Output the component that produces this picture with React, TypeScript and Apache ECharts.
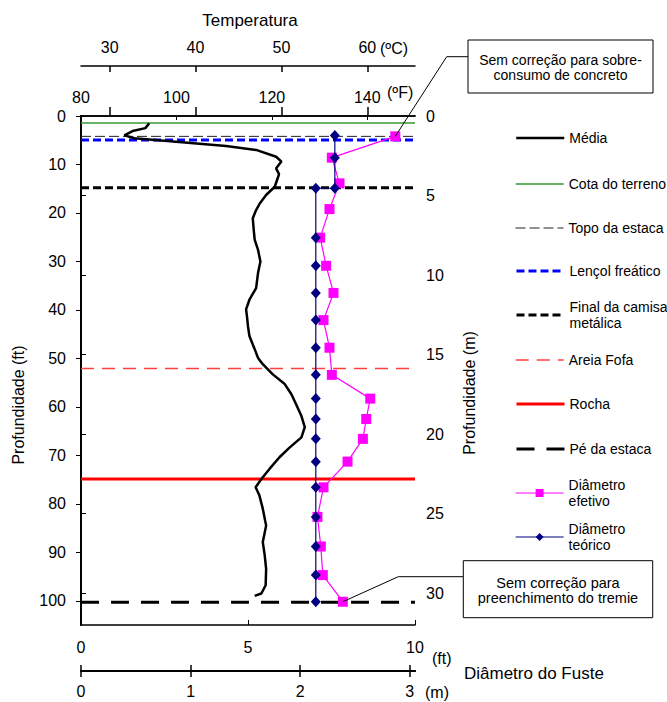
import React, { useEffect, useRef } from 'react';
import * as echarts from 'echarts';

// ---- Data ----
const tempDepthFt = [1.5, 2.5, 3.1, 4.0, 4.6, 5.3, 6.2, 7.0, 8.4, 9.4, 10.8, 12.0, 12.9, 14.6, 16.3, 18.0, 19.4, 21.1, 23.5, 25.5, 27.6, 30.0, 32.4, 35.5, 37.9, 39.9, 41.5, 43.4, 45.4, 48.1, 49.9, 51.2, 53.3, 55.3, 57.4, 59.5, 61.9, 64.2, 66.3, 68.4, 70.4, 72.8, 74.9, 76.6, 78.3, 81.0, 84.5, 87.9, 90.6, 93.4, 96.8, 98.5, 99.0];
const tempF = [94.3, 93.5, 90.8, 89.1, 91.2, 99.9, 110.4, 116.7, 120.9, 122.0, 120.9, 121.5, 121.2, 120.6, 118.8, 117.5, 116.7, 116.0, 116.2, 116.4, 117.1, 117.6, 117.1, 116.7, 115.3, 114.6, 114.8, 115.0, 115.3, 116.4, 117.1, 118.1, 120.2, 122.7, 124.1, 125.1, 126.2, 126.9, 126.2, 123.7, 121.6, 119.5, 117.8, 116.6, 117.4, 118.1, 118.8, 118.1, 118.5, 118.8, 118.7, 117.8, 116.4];

const efetivoDepthFt = [4.2, 8.6, 13.9, 19.2, 25.1, 30.9, 36.5, 42.1, 47.8, 53.4, 58.3, 62.5, 66.6, 71.3, 76.6, 82.7, 88.8, 94.7, 100.2];
const efetivoDiamFt = [9.41, 7.51, 7.74, 7.44, 7.16, 7.34, 7.56, 7.26, 7.44, 7.51, 8.66, 8.54, 8.44, 7.98, 7.26, 7.08, 7.18, 7.24, 7.84];

const teoricoDepthFt = [4.0, 8.6, 14.9, 14.9, 25.1, 30.9, 36.5, 42.1, 47.8, 53.4, 58.3, 62.5, 66.6, 71.3, 76.6, 82.7, 88.8, 94.7, 100.2];
const teoricoDiamFt = [7.6, 7.6, 7.6, 7.03, 7.03, 7.03, 7.03, 7.03, 7.03, 7.03, 7.03, 7.03, 7.03, 7.03, 7.03, 7.03, 7.03, 7.03, 7.03];

const refLineNames = ['Cota do terreno', 'Topo da estaca', 'Lençol freático', 'Final da camisa metálica', 'Areia Fofa', 'Rocha', 'Pé da estaca'];
const refLineDepthFt = [1.45, 4.2, 4.95, 14.8, 52.1, 74.9, 100.3];

const fahrenheitTicks = [80, 100, 120, 140];
const celsiusTicks = [30, 40, 50, 60];
const depthFtTicks = [0, 10, 20, 30, 40, 50, 60, 70, 80, 90, 100];
const depthMTicks = [0, 5, 10, 15, 20, 25, 30];
const diamFtTicks = [0, 5, 10];
const diamMTicks = [0, 1, 2, 3];

// ---- Styles ----
const FONT = "'Liberation Sans', Arial, sans-serif";
const FT_PER_M = 3.2808;
const refLineStyles: any[] = [
  { color: '#339933', width: 1.5, type: 'solid' },
  { color: '#222222', width: 1, type: [10, 4] },
  { color: '#0000FF', width: 3, type: [8, 4] },
  { color: '#000000', width: 3, type: [8, 4] },
  { color: '#FF4040', width: 1.5, type: [13, 8] },
  { color: '#FF0000', width: 3, type: 'solid' },
  { color: '#000000', width: 3, type: [18, 12] },
];
const legendOrder = ['Média', ...refLineNames, 'Diâmetro efetivo', 'Diâmetro teórico'];
const legendY = [138, 184, 228, 271, 315, 360, 404, 449, 493, 537];
const legendLabel: Record<string, string> = {
  'Final da camisa metálica': 'Final da camisa\nmetálica',
  'Diâmetro efetivo': 'Diâmetro\nefetivo',
  'Diâmetro teórico': 'Diâmetro\nteórico',
};

const hideExcept = (list: number[]) => (v: number) =>
  list.some((t) => Math.abs(t - v) < 1e-6) ? String(v) : '';

export default function App() {
  const ref = useRef<HTMLDivElement>(null);
  useEffect(() => {
    if (!ref.current) return;
    const chart = echarts.init(ref.current, undefined, { renderer: 'svg' });
    const labelStyle = { color: '#000', fontSize: 16, fontFamily: FONT };
    const axisLine = (w = 1.5) => ({ show: true, lineStyle: { color: '#000', width: w } });
    const tempC = (f: number) => ((f - 32) * 5) / 9;

    const series: any[] = [];
    series.push({
      name: 'Média', type: 'line', xAxisIndex: 0, yAxisIndex: 0, symbol: 'none', z: 4,
      lineStyle: { color: '#000', width: 2.5 }, itemStyle: { color: '#000' },
      data: tempDepthFt.map((d, i) => [tempF[i], d]),
    });
    refLineNames.forEach((n, i) => {
      series.push({
        name: n, type: 'line', xAxisIndex: 3, yAxisIndex: 0, symbol: 'none', z: 3,
        lineStyle: refLineStyles[i], itemStyle: { color: refLineStyles[i].color },
        data: [[diamFtTicks[0], refLineDepthFt[i]], [diamFtTicks[diamFtTicks.length - 1], refLineDepthFt[i]]],
      });
    });
    series.push({
      name: 'Diâmetro efetivo', type: 'line', xAxisIndex: 3, yAxisIndex: 0, z: 5,
      symbol: 'rect', symbolSize: 10, lineStyle: { color: '#FF00FF', width: 1.2 }, itemStyle: { color: '#FF00FF' },
      data: efetivoDepthFt.map((d, i) => [efetivoDiamFt[i], d]),
    });
    series.push({
      name: 'Diâmetro teórico', type: 'line', xAxisIndex: 3, yAxisIndex: 0, z: 6,
      symbol: 'diamond', symbolSize: [10, 11], lineStyle: { color: '#000080', width: 1.2 }, itemStyle: { color: '#000080' },
      data: teoricoDepthFt.map((d, i) => [teoricoDiamFt[i], d]),
    });

    const legends = legendOrder.map((name, i) => {
      const twoLine = !!legendLabel[name];
      const hasMarker = name.startsWith('Diâmetro');
      return {
        data: [name], left: 515, top: legendY[i] - (twoLine ? 24 : 8), orient: 'vertical', padding: 0,
        selectedMode: false, itemWidth: 48, itemHeight: 10,
        formatter: (n: string) => legendLabel[n] || n,
        itemStyle: hasMarker ? {} : { opacity: 0 },
        lineStyle: { width: 'inherit' },
        textStyle: { color: '#000', fontSize: 14, fontFamily: FONT, lineHeight: 16, padding: twoLine ? [16, 0, 0, 0] : 0 },
      };
    });

    const xFahr = { min: 80, max: 150 };
    const xC = { min: tempC(80), max: tempC(150) };
    const mMax = 10 / FT_PER_M;

    chart.setOption({
      animation: false,
      grid: { left: 81, top: 116, width: 334, height: 509, containLabel: false, outerBoundsMode: 'none' },
      legend: legends,
      xAxis: [
        {
          type: 'value', position: 'top', ...xFahr, interval: 20,
          axisLine: axisLine(1.5), splitLine: { show: false },
          axisTick: { show: true, inside: true, length: 4, customValues: fahrenheitTicks, lineStyle: { color: '#000' } },
          axisLabel: { ...labelStyle, margin: 11, customValues: fahrenheitTicks, formatter: hideExcept(fahrenheitTicks) },
        },
        {
          type: 'value', position: 'top', offset: 50, ...xC,
          axisLine: axisLine(1.5), splitLine: { show: false },
          axisTick: { show: true, inside: false, length: 9, customValues: celsiusTicks, lineStyle: { color: '#000', width: 1.5 } },
          axisLabel: { ...labelStyle, margin: 11, customValues: celsiusTicks, formatter: hideExcept(celsiusTicks) },
        },
        {
          type: 'value', position: 'top', offset: 50, ...xC,
          axisLine: axisLine(1.5), splitLine: { show: false },
          axisTick: { show: true, inside: true, length: 6, customValues: celsiusTicks, lineStyle: { color: '#000', width: 1.5 } },
          axisLabel: { show: false },
        },
        {
          type: 'value', position: 'bottom', min: 0, max: 10, interval: 5,
          axisLine: axisLine(1.5), splitLine: { show: false },
          axisTick: { show: true, inside: true, length: 5, customValues: diamFtTicks, lineStyle: { color: '#000' } },
          axisLabel: { ...labelStyle, margin: 14, customValues: diamFtTicks, formatter: hideExcept(diamFtTicks) },
        },
        {
          type: 'value', position: 'bottom', offset: 46, min: 0, max: mMax,
          axisLine: axisLine(2), splitLine: { show: false },
          axisTick: { show: true, inside: false, length: 6, customValues: diamMTicks, lineStyle: { color: '#000', width: 1.5 } },
          axisLabel: { ...labelStyle, margin: 12, customValues: diamMTicks, formatter: hideExcept(diamMTicks) },
        },
        {
          type: 'value', position: 'bottom', offset: 46, min: 0, max: mMax,
          axisLine: axisLine(2), splitLine: { show: false },
          axisTick: { show: true, inside: true, length: 6, customValues: diamMTicks, lineStyle: { color: '#000', width: 1.5 } },
          axisLabel: { show: false },
        },
      ],
      yAxis: [
        {
          type: 'value', position: 'left', inverse: true, min: 0, max: 105, interval: 10,
          axisLine: axisLine(2), splitLine: { show: false },
          axisTick: { show: true, inside: false, length: 5, customValues: depthFtTicks, lineStyle: { color: '#000' } },
          axisLabel: { ...labelStyle, margin: 15, customValues: depthFtTicks, formatter: hideExcept(depthFtTicks) },
        },
        {
          type: 'value', position: 'right', inverse: true, min: 0, max: 105 / FT_PER_M, interval: 5,
          axisLine: axisLine(1.5), splitLine: { show: false },
          axisTick: { show: true, inside: false, length: 5, customValues: depthMTicks, lineStyle: { color: '#000' } },
          axisLabel: { ...labelStyle, margin: 11, customValues: depthMTicks, formatter: hideExcept(depthMTicks) },
        },
      ],
      series,
    });

    const pTop = chart.convertToPixel({ xAxisIndex: 3, yAxisIndex: 0 }, [efetivoDiamFt[0], efetivoDepthFt[0]]) as number[];
    const last = efetivoDiamFt.length - 1;
    const pBot = chart.convertToPixel({ xAxisIndex: 3, yAxisIndex: 0 }, [efetivoDiamFt[last], efetivoDepthFt[last]]) as number[];

    const txt = (text: string, x: number, y: number, size: number, extra: any = {}) => ({
      type: 'text', x, y, z: 100,
      style: { text, fontSize: size, fontFamily: FONT, fill: '#000', align: 'center', verticalAlign: 'middle', ...extra },
    });

    chart.setOption({
      graphic: [
        txt('Temperatura', 250, 20, 17),
        txt('(ºC)', 380, 48, 16, { align: 'left' }),
        txt('(ºF)', 387, 92, 16, { align: 'left' }),
        txt('(ft)', 432, 658, 16, { align: 'left' }),
        txt('(m)', 425, 692, 16, { align: 'left' }),
        txt('Diâmetro do Fuste', 464, 673, 17, { align: 'left' }),
        { ...txt('Profundidade (ft)', 18, 405, 16), rotation: Math.PI / 2 },
        { ...txt('Profundidade (m)', 469, 393, 16), rotation: Math.PI / 2 },
        {
          type: 'polyline', z: 90, shape: { points: [pTop, [446.7, 56.7], [468, 56.7]] },
          style: { stroke: '#000', lineWidth: 1, fill: 'none' },
        },
        {
          type: 'polyline', z: 90, shape: { points: [pBot, [398.3, 576.7], [463.3, 576.7]] },
          style: { stroke: '#000', lineWidth: 1, fill: 'none' },
        },
        { type: 'rect', z: 95, shape: { x: 468, y: 40, width: 185, height: 53 }, style: { fill: '#fff', stroke: '#000', lineWidth: 1 } },
        txt('Sem correção para sobre-\nconsumo de concreto', 560.5, 67.5, 14, { lineHeight: 14.5 }),
        { type: 'rect', z: 95, shape: { x: 463.3, y: 560.7, width: 189.4, height: 57 }, style: { fill: '#fff', stroke: '#000', lineWidth: 1 } },
        txt('Sem correção para\npreenchimento do tremie', 558, 590.5, 14.5, { lineHeight: 14.5 }),
      ],
    });

    return () => chart.dispose();
  }, []);
  return <div ref={ref} style={{ position: 'absolute', left: 0, top: 0, width: 667, height: 702 }} />;
}
